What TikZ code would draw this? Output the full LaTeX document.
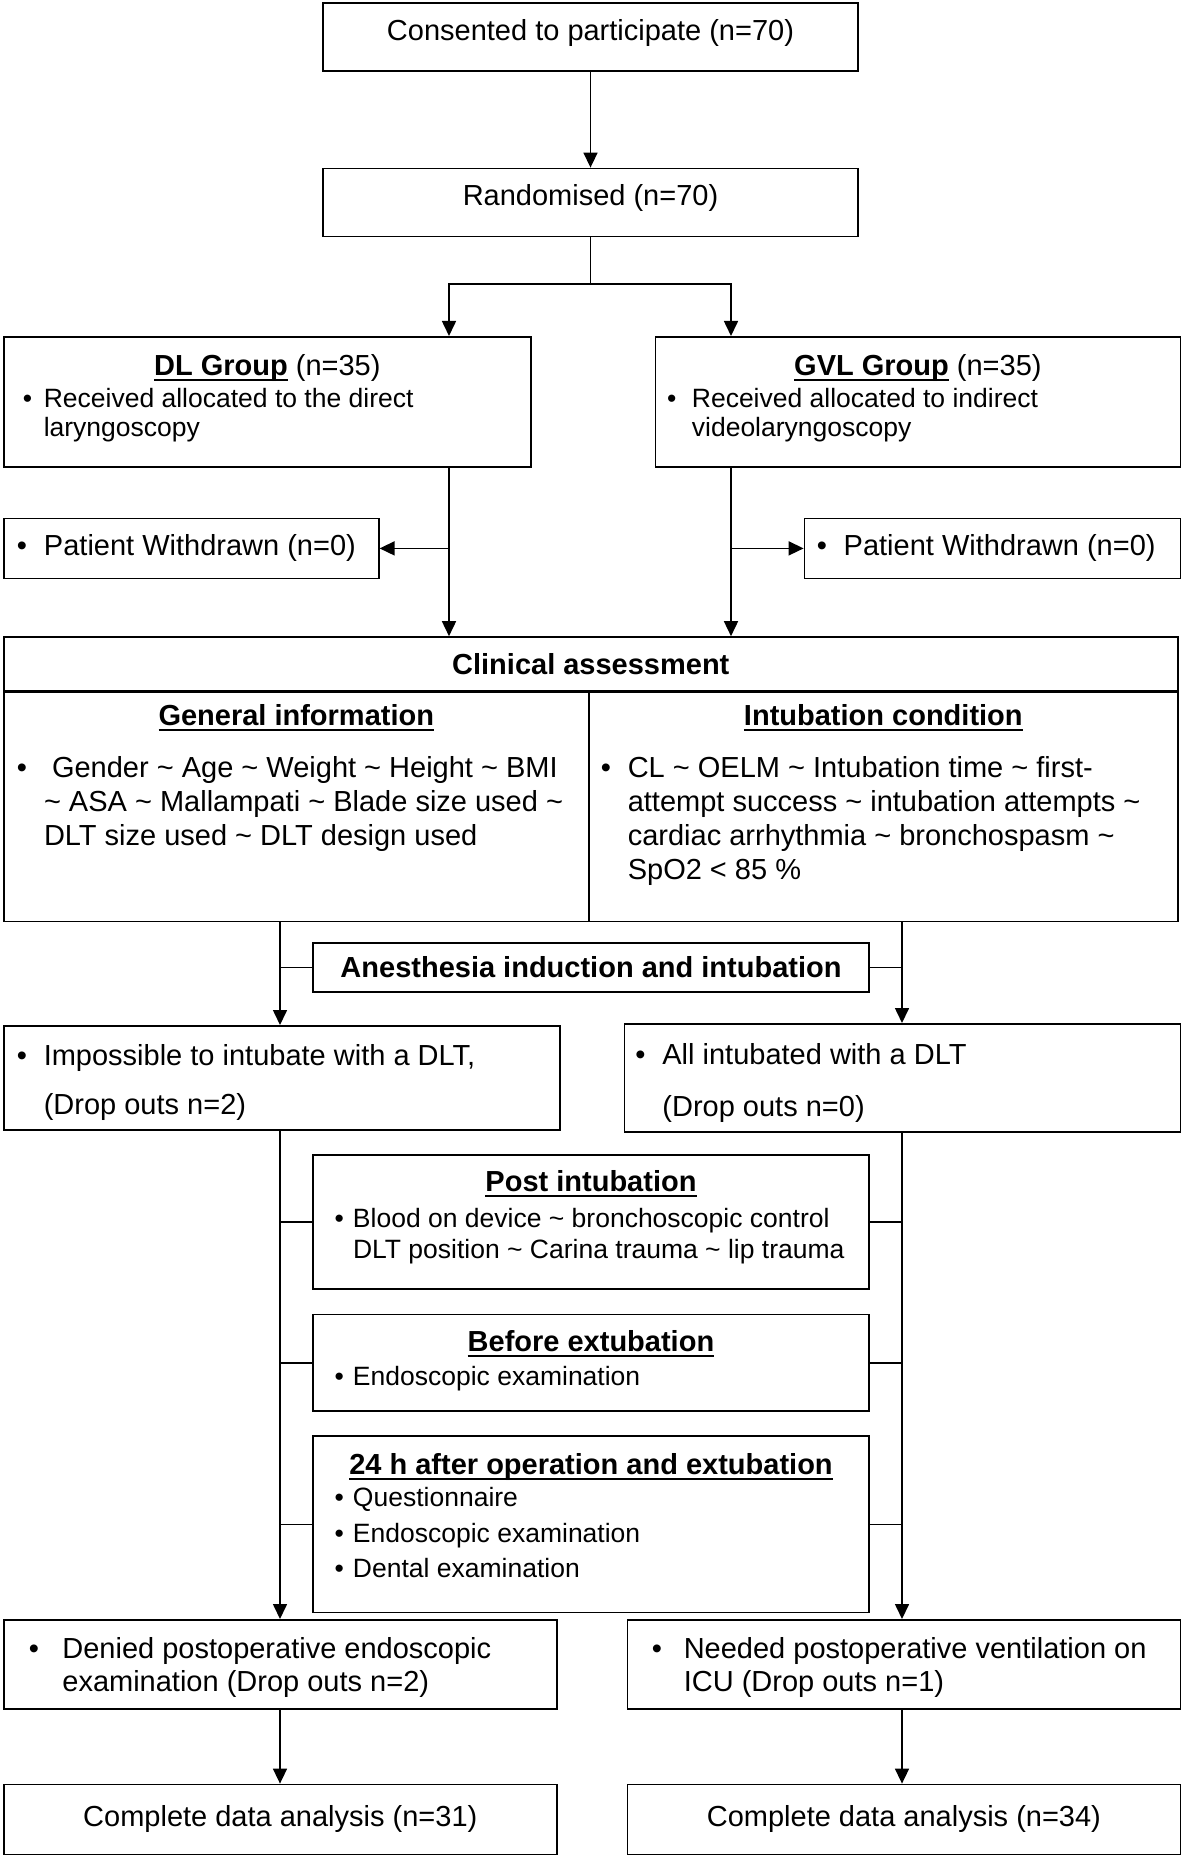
\documentclass[tikz,border=0pt]{standalone}
\usepackage{fontspec}
\setmainfont{Liberation Sans}
\usetikzlibrary{positioning, arrows.meta}

\makeatletter
\newcommand{\bpt}[3]{\par{\fontsize{\f@size}{#2}\selectfont
  \noindent\hbox to #1{\textbullet\hss}%
  \begin{tabular}[t]{@{}l@{}}#3\end{tabular}\par}}
\makeatother
\newcommand{\ttl}[1]{\setbox0\hbox{\bfseries #1}%
  \rlap{\vrule height -2pt depth 3pt width \wd0}\box0\relax}
\newcommand{\tld}{\textasciitilde}
\newcommand{\fa}{\fontsize{14.5pt}{17pt}\selectfont}
\newcommand{\fb}{\fontsize{13.25pt}{15pt}\selectfont}

\begin{document}
\begin{tikzpicture}[x=0.5pt, y=-0.5pt, line width=0.8pt, font=\fa,
  >={Triangle[length=7.5pt, width=7pt]},
  box/.style 2 args = {rectangle, draw, inner sep=0pt, minimum width=#1, minimum height=#2},
  bold/.style = {font=\fa\bfseries}
  ]
\path[use as bounding box, fill=white] (0,0) rectangle (1181,1855);

\node (cons) [box={267.5pt}{34pt}, text depth=7pt, anchor=north] at (590.5,2) {Consented to participate (n=70)};
\node (rand) [box={267.5pt}{34pt}, text depth=7.5pt, below=48pt of cons] {Randomised (n=70)};

\node (dl) [box={263.5pt}{65pt}, anchor=north west] at (3,336)
  {\parbox{244.5pt}{\centerline{\ttl{DL Group} (n=35)}\vspace{1.5pt}
   {\fb\bpt{10.5pt}{14.5pt}{Received allocated to the direct\\laryngoscopy}}\vspace{2.4pt}}};
\node (gvl) [box={262.5pt}{65pt}, right=61.5pt of dl]
  {\parbox{250.8pt}{\centerline{\ttl{GVL Group} (n=35)}\vspace{1.5pt}
   {\fb\bpt{12.4pt}{14.5pt}{Received allocated to indirect\\videolaryngoscopy}}\vspace{2.4pt}}};

\node (wdl) [box={187.5pt}{30pt}, below right=25pt and 0pt of dl.south west]
  {\parbox{174.5pt}{\bpt{13.6pt}{17pt}{Patient Withdrawn (n=0)}}};
\node (wgvl) [box={188pt}{30pt}, below left=25pt and 0pt of gvl.south east]
  {\parbox{175.5pt}{\bpt{13.4pt}{17pt}{Patient Withdrawn (n=0)}}};

\node (clin) [box={587pt}{27pt}, bold, below right=28.5pt and 0pt of wdl.south west] {Clinical assessment};
\node (gen) [box={292.5pt}{114.5pt}, below right=0pt and 0pt of clin.south west]
  {\parbox[c][114.5pt][t]{279.5pt}{\centerline{\rule{0pt}{16.2pt}\ttl{General information}}\vspace{9.4pt}
   \bpt{13.6pt}{17pt}{\ Gender \tld{} Age \tld{} Weight \tld{} Height \tld{} BMI\\
     \tld{} ASA \tld{} Mallampati \tld{} Blade size used \tld{}\\
     DLT size used \tld{} DLT design used}}};
\node (int) [box={294.5pt}{114.5pt}, below left=0pt and 0pt of clin.south east]
  {\parbox[c][114.5pt][t]{282.5pt}{\centerline{\rule{0pt}{16.2pt}\ttl{Intubation condition}}\vspace{9.4pt}
   \bpt{13.5pt}{17pt}{CL \tld{} OELM \tld{} Intubation time \tld{} first-\\
     attempt success \tld{} intubation attempts \tld{}\\
     cardiac arrhythmia \tld{} bronchospasm \tld{}\\
     SpO2 < 85 \%}}};

\node (anes) [box={278pt}{24.5pt}, bold, anchor=north] at (591,942) {Anesthesia induction and intubation};

\node (imp) [box={278pt}{52pt}, anchor=north west] at (3,1025)
  {\parbox{265pt}{\vspace*{2pt}\bpt{13.5pt}{24.5pt}{Impossible to intubate with a DLT,\\(Drop outs n=2)}}};
\node (allint) [box={278pt}{52pt}, right=31.5pt of imp]
  {\parbox{267pt}{\vspace*{2pt}\bpt{13.5pt}{26pt}{All intubated with a DLT\\(Drop outs n=0)}}};

\node (post) [box={278pt}{67pt}, anchor=north] at (591,1154)
  {\parbox{256.3pt}{\centerline{\ttl{Post intubation}}\vspace{2.7pt}
   {\fb\bpt{9.15pt}{15.3pt}{Blood on device \tld{} bronchoscopic control\\
     DLT position \tld{} Carina trauma \tld{} lip trauma}}\vspace{3pt}}};
\node (before) [box={278pt}{48.3pt}, below=12pt of post]
  {\parbox{256.3pt}{\centerline{\ttl{Before extubation}}\vspace{1.9pt}
   {\fb\bpt{9.15pt}{15.3pt}{Endoscopic examination}}}};
\node (h24) [box={278pt}{88.3pt}, below=11.7pt of before]
  {\parbox{256.3pt}{\centerline{\ttl{24 h after operation and extubation}}\vspace{-1.5pt}
   {\fb\bpt{9.15pt}{17.75pt}{Questionnaire}\bpt{9.15pt}{17.75pt}{Endoscopic examination}%
    \bpt{9.15pt}{17.75pt}{Dental examination}}\vspace{3.5pt}}};

\node (denied) [box={276.5pt}{44.5pt}, anchor=north west] at (3,1619)
  {\parbox{251.5pt}{\vspace*{4pt}\bpt{16.8pt}{16.5pt}{Denied postoperative endoscopic\\examination (Drop outs n=2)}}};
\node (needed) [box={276.5pt}{44.5pt}, right=34.5pt of denied]
  {\parbox{252.1pt}{\vspace*{4pt}\bpt{16pt}{16.5pt}{Needed postoperative ventilation on\\ICU (Drop outs n=1)}}};
\node (comp1) [box={276.5pt}{35pt}, below=37pt of denied] {Complete data analysis (n=31)};
\node (comp2) [box={276.5pt}{35pt}, below=37pt of needed] {Complete data analysis (n=34)};

\coordinate (split) at (590.5,284);
\coordinate (lx) at (449,0);
\coordinate (rx) at (731,0);
\coordinate (ax) at (280,0);
\coordinate (bx) at (902,0);

\draw[->] (cons) -- (rand);
\draw (rand) -- (split);
\draw[->] (split) -| (lx |- dl.north);
\draw[->] (split) -| (rx |- gvl.north);
\draw[->] (lx |- dl.south) -- (lx |- clin.north);
\draw[->] (rx |- gvl.south) -- (rx |- clin.north);
\draw[->] (lx |- wdl.east) -- (wdl.east);
\draw[->] (rx |- wgvl.west) -- (wgvl.west);
\draw[->] (ax |- gen.south) -- (ax |- imp.north);
\draw[->] (bx |- int.south) -- (bx |- allint.north);
\draw (anes.west) -- (ax |- anes.west);
\draw (anes.east) -- (bx |- anes.east);
\draw[->] (ax |- imp.south) -- (ax |- denied.north);
\draw[->] (bx |- allint.south) -- (bx |- needed.north);
\foreach \n in {post,before,h24} {
  \draw (\n.west) -- (ax |- \n.west);
  \draw (\n.east) -- (bx |- \n.east);
}
\draw[->] (ax |- denied.south) -- (ax |- comp1.north);
\draw[->] (bx |- needed.south) -- (bx |- comp2.north);
\end{tikzpicture}
\end{document}
